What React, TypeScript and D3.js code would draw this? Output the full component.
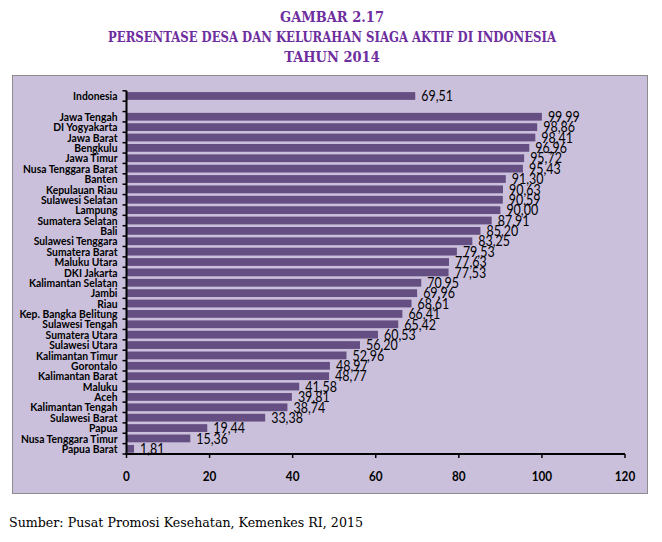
import React from "react";
import * as d3 from "d3";

const categories = [
  "Indonesia", "", "Jawa Tengah", "DI Yogyakarta", "Jawa Barat", "Bengkulu",
  "Jawa Timur", "Nusa Tenggara Barat", "Banten", "Kepulauan Riau",
  "Sulawesi Selatan", "Lampung", "Sumatera Selatan", "Bali",
  "Sulawesi Tenggara", "Sumatera Barat", "Maluku Utara", "DKI Jakarta",
  "Kalimantan Selatan", "Jambi", "Riau", "Kep. Bangka Belitung",
  "Sulawesi Tengah", "Sumatera Utara", "Sulawesi Utara", "Kalimantan Timur",
  "Gorontalo", "Kalimantan Barat", "Maluku", "Aceh", "Kalimantan Tengah",
  "Sulawesi Barat", "Papua", "Nusa Tenggara Timur", "Papua Barat",
];

const values: (number | null)[] = [
  69.51, null, 99.99, 98.86, 98.41, 96.96, 95.72, 95.43, 91.3, 90.63, 90.59,
  90.0, 87.91, 85.2, 83.25, 79.53, 77.63, 77.53, 70.95, 69.96, 68.61, 66.41,
  65.42, 60.53, 56.2, 52.96, 48.97, 48.77, 41.58, 39.81, 38.74, 33.38, 19.44,
  15.36, 1.81,
];

const xTicks = [0, 20, 40, 60, 80, 100, 120];

const titleLines = [
  "GAMBAR 2.17",
  "PERSENTASE DESA DAN KELURAHAN SIAGA AKTIF DI INDONESIA",
  "TAHUN 2014",
];
const source = "Sumber: Pusat Promosi Kesehatan, Kemenkes RI, 2015";

const W = 662;
const H = 542;
const sans = "Lato, 'Open Sans', sans-serif";
const serif = "'DejaVu Serif Condensed', 'Liberation Serif', serif";

const fmt = (v: number) => v.toFixed(2).replace(".", ",");

// text squeezed horizontally to mimic a condensed face
const Narrow = ({
  x, y, sx, children, ...rest
}: { x: number; y: number; sx: number; children: React.ReactNode } & React.SVGProps<SVGTextElement>) => (
  <g transform={`translate(${x},${y}) scale(${sx},1)`}>
    <text {...rest}>{children}</text>
  </g>
);

export default function App() {
  const x = d3.scaleLinear().domain([0, 120]).range([126.5, 625]);
  const y = d3
    .scaleBand<number>()
    .domain(d3.range(categories.length))
    .range([90.8, 454])
    .paddingInner(0.25)
    .paddingOuter(0.125);
  const step = y.step();
  const [y0, yEnd] = y.range();

  return (
    <svg
      width={W}
      height={H}
      style={{ position: "absolute", left: 0, top: 0, background: "#fff" }}
    >
      {titleLines.map((t, i) => (
        <text
          key={i}
          x={332}
          y={21.5 + i * 20}
          textAnchor="middle"
          fontFamily={serif}
          fontWeight="bold"
          fontSize={14.5}
          fill="#6E2E9E"
          textLength={i === 1 ? 448 : undefined}
          lengthAdjust="spacingAndGlyphs"
        >
          {t}
        </text>
      ))}

      <rect x={12.5} y={75.5} width={635} height={418} fill="#CBC0DC" stroke="#8C8C8C" />

      {values.map((v, i) =>
        v == null ? null : (
          <g key={i}>
            <rect
              x={x(0)}
              y={y(i)!}
              width={x(v) - x(0)}
              height={y.bandwidth()}
              fill="#654F82"
            />
            <Narrow
              x={x(v) + 6}
              y={y(i)! + y.bandwidth() / 2}
              sx={0.86}
              dy="0.36em"
              fontFamily={sans}
              fontSize={14.5}
              fill="#000"
            >
              {fmt(v)}
            </Narrow>
          </g>
        )
      )}

      {categories.map((c, i) => (
        <Narrow
          key={i}
          x={x(0) - 9}
          y={y(i)! + y.bandwidth() / 2}
          sx={0.9}
          dy="0.36em"
          textAnchor="end"
          fontFamily={sans}
          fontWeight="bold"
          fontSize={11.5}
          fill="#000"
        >
          {c}
        </Narrow>
      ))}

      {/* y axis with ticks at band boundaries */}
      <line x1={x(0)} x2={x(0)} y1={y0} y2={yEnd} stroke="#000" strokeWidth={2} />
      {d3.range(categories.length + 1).map((i) => (
        <line
          key={i}
          x1={x(0) - 4}
          x2={x(0)}
          y1={y0 + i * step}
          y2={y0 + i * step}
          stroke="#000"
          strokeWidth={1.5}
        />
      ))}

      {/* x axis */}
      <line x1={x(0) - 1} x2={x(120)} y1={yEnd} y2={yEnd} stroke="#000" strokeWidth={2} />
      {xTicks.map((t) => (
        <g key={t}>
          <line x1={x(t)} x2={x(t)} y1={yEnd} y2={yEnd + 4} stroke="#000" strokeWidth={1.5} />
          <Narrow
            x={x(t)}
            y={480.5}
            sx={0.84}
            textAnchor="middle"
            fontFamily={sans}
            fontWeight="bold"
            fontSize={14}
            fill="#000"
          >
            {t}
          </Narrow>
        </g>
      ))}

      <text
        x={9}
        y={527}
        fontFamily={serif}
        fontSize={13}
        fill="#000"
        textLength={354}
        lengthAdjust="spacingAndGlyphs"
      >
        {source}
      </text>
    </svg>
  );
}
